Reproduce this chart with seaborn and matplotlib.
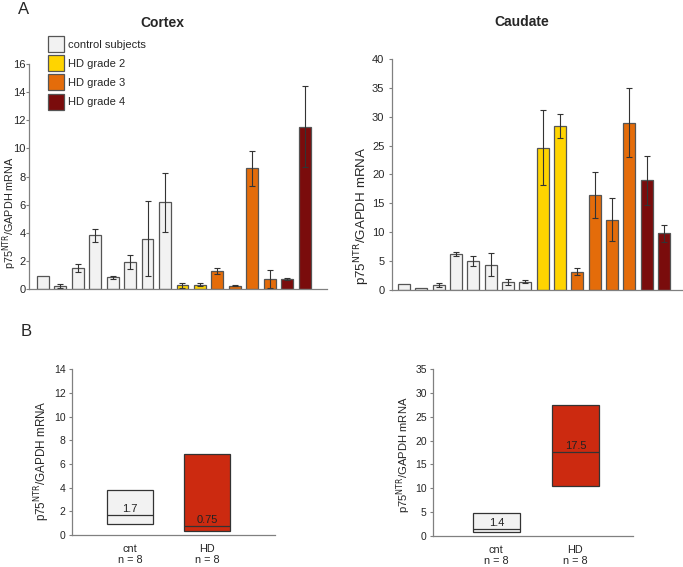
import numpy as np
import pandas as pd
import seaborn as sns
import matplotlib.pyplot as plt
from matplotlib.patches import Patch

sns.set_style("white")
plt.rcParams['font.family'] = ['Liberation Sans', 'DejaVu Sans']

# --- data ---
grades = ["control subjects"] * 8 + ["HD grade 2"] * 2 + ["HD grade 3"] * 4 + ["HD grade 4"] * 2
cortex_vals = [0.95, 0.24, 1.5, 3.83, 0.83, 1.92, 3.6, 6.18, 0.28, 0.33, 1.28, 0.24, 8.6, 0.73, 0.71, 11.55]
cortex_err = [0, 0.15, 0.3, 0.45, 0.12, 0.5, 2.65, 2.1, 0.17, 0.1, 0.2, 0.05, 1.25, 0.65, 0.07, 2.9]
caudate_vals = [1.0, 0.4, 0.8, 6.2, 5.0, 4.4, 1.4, 1.4, 24.6, 28.4, 3.2, 16.4, 12.2, 29.0, 19.0, 9.8]
caudate_err = [0, 0, 0.35, 0.35, 0.9, 2.0, 0.55, 0.25, 6.5, 2.1, 0.65, 3.95, 3.75, 5.95, 4.2, 1.5]

groups = ["cnt", "HD"]
group_n = [8, 8]
cortex_lo = [0.92, 0.36]
cortex_hi = [3.83, 6.84]
cortex_med = [1.7, 0.75]
caudate_lo = [0.83, 10.4]
caudate_hi = [4.86, 27.5]
caudate_med = [1.4, 17.5]

pal = {"control subjects": "#f2f2f2", "HD grade 2": "#ffd400",
       "HD grade 3": "#e46c0a", "HD grade 4": "#7a0c0c"}
box_cols = ["#f2f2f2", "#cc2a10"]
edge = "#555555"
spine = "#808080"
ylab = "p75$^{\\mathrm{NTR}}$/GAPDH mRNA"

fig = plt.figure(figsize=(6.83, 5.67), dpi=100)


def style(ax, tsize, pad=2):
    for s in ["top", "right"]:
        ax.spines[s].set_visible(False)
    for s in ["left", "bottom"]:
        ax.spines[s].set_color(spine)
        ax.spines[s].set_linewidth(0.9)
    ax.tick_params(axis="y", left=True, length=2.5, width=0.8, color=spine, labelsize=tsize, pad=pad)
    ax.tick_params(axis="x", bottom=False)


def top_panel(rect, vals, err, ymax, ystep, xlim, lsize, ypos, pad):
    ax = fig.add_axes(rect)
    df = pd.DataFrame({"idx": range(len(vals)), "val": vals, "grade": grades})
    sns.barplot(data=df, x="idx", y="val", hue="grade", palette=pal, dodge=False, saturation=1,
                legend=False, width=0.68, edgecolor=edge, linewidth=0.9, ax=ax)
    x = np.arange(len(vals))
    e = np.array(err)
    m = e > 0
    ax.errorbar(x[m], np.array(vals)[m], yerr=e[m], fmt="none", ecolor="#333333",
                elinewidth=0.8, capsize=2.5, capthick=0.8)
    style(ax, 8, pad)
    ax.set_xticks([])
    ax.set_xlim(*xlim)
    ax.set_ylim(0, ymax)
    ax.set_yticks(np.arange(0, ymax + 0.1, ystep))
    ax.set_xlabel("")
    ax.set_ylabel(ylab, fontsize=lsize)
    ax.yaxis.set_label_coords(-0.05, ypos)
    return ax


def bottom_panel(rect, lo, hi, med, ymax, ystep, xlim, lsize, ypos):
    ax = fig.add_axes(rect)
    df = pd.DataFrame({"g": groups, "h": np.array(hi) - np.array(lo)})
    sns.barplot(data=df, x="g", y="h", color="white", bottom=lo, width=0.6, saturation=1,
                edgecolor="#333333", linewidth=0.9, ax=ax)
    for p, c in zip(ax.patches, box_cols):
        p.set_facecolor(c)
    ax.hlines(med, [-0.3, 0.7], [0.3, 1.3], color="#333333", linewidth=0.9)
    for i, v in enumerate(med):
        ax.text(i, v + ymax * 0.008, f"{v:g}", ha="center", va="bottom", fontsize=8, color="#222222")
    style(ax, 7.5)
    ax.set_xlim(*xlim)
    ax.set_ylim(0, ymax)
    ax.set_yticks(np.arange(0, ymax + 0.1, ystep))
    ax.set_xticks(range(len(groups)))
    ax.set_xticklabels([f"{g}\nn = {n}" for g, n in zip(groups, group_n)], fontsize=7.8, linespacing=1.1)
    ax.tick_params(axis="x", pad=3)
    ax.set_xlabel("")
    ax.set_ylabel(ylab, fontsize=lsize)
    ax.yaxis.set_label_coords(-0.1, ypos)
    return ax


axes = [
    top_panel([0.0425, 0.490, 0.436, 0.397], cortex_vals, cortex_err, 16, 2, (-0.78, 16.26), 7.8, 0.34, 0),
    top_panel([0.574, 0.4885, 0.426, 0.4075], caudate_vals, caudate_err, 40, 5, (-0.69, 16.1), 9.6, 0.32, 3),
    bottom_panel([0.1054, 0.0564, 0.297, 0.2926], cortex_lo, cortex_hi, cortex_med, 14, 2, (-0.75, 1.88), 8.4, 0.45),
    bottom_panel([0.634, 0.0547, 0.293, 0.2945], caudate_lo, caudate_hi, caudate_med, 35, 5, (-0.80, 1.73), 8.1, 0.485),
]

# centre each y label at its x position in the reference (pixels)
label_x = [None, 362, 42.5, 404]
fig.canvas.draw()
r = fig.canvas.get_renderer()
for ax, cx in zip(axes, label_x):
    lab = ax.yaxis.label
    bb = lab.get_window_extent(r)
    target = bb.width / 2 + 0.5 if cx is None else cx
    dx = target - (bb.x0 + bb.x1) / 2
    axw = ax.get_window_extent(r).width
    x0, y0 = lab.get_position()
    pos = ax.transAxes.inverted().transform(lab.get_transform().transform((x0, y0)))
    ax.yaxis.set_label_coords(pos[0] + dx / axw, pos[1])

fig.text(162 / 683, 1 - 23 / 567, "Cortex", fontsize=10, fontweight="bold", ha="center", va="center")
fig.text(522 / 683, 1 - 22 / 567, "Caudate", fontsize=10, fontweight="bold", ha="center", va="center")

handles = [Patch(facecolor=pal[k], edgecolor=edge, linewidth=0.9) for k in pal]
fig.legend(handles, list(pal.keys()), loc="upper left", bbox_to_anchor=(48 / 683, 1 - 36 / 567),
           frameon=False, fontsize=8, handlelength=1.45, handleheight=1.84,
           handletextpad=0.35, labelspacing=0.29, borderpad=0, borderaxespad=0)

fig.text(18 / 683, 1 - 10 / 567, "A", fontsize=12, va="center", ha="left")
fig.text(21 / 683, 1 - 332 / 567, "B", fontsize=12, va="center", ha="left")

fig.savefig("out.png", dpi=100)
